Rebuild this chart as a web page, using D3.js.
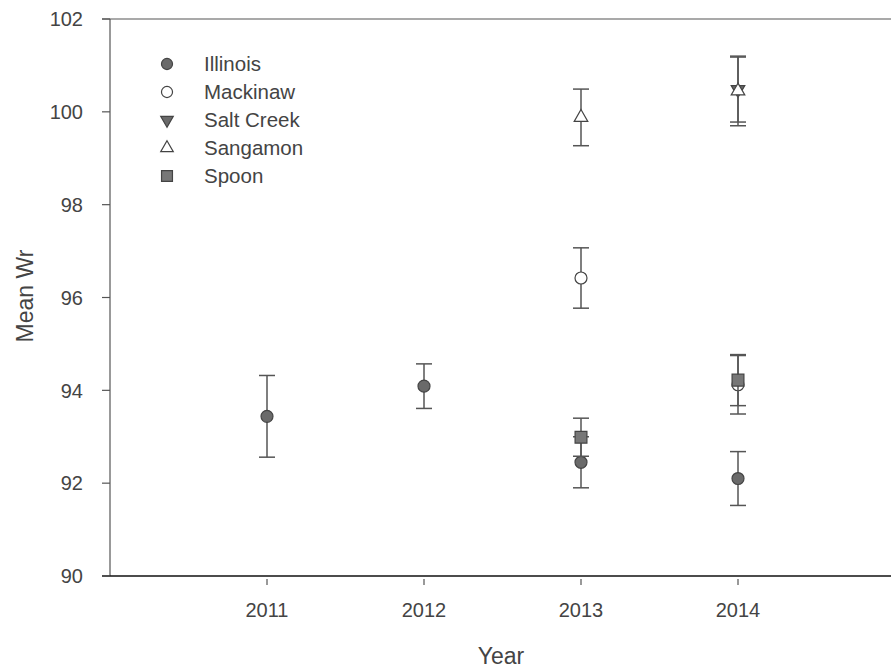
<!DOCTYPE html>
<html>
<head>
<meta charset="utf-8">
<script src="https://cdn.jsdelivr.net/npm/d3@7"></script>
<style>
  body { margin: 0; background: #fff; }
  text { font-family: "Liberation Sans", Arial, sans-serif; fill: #444; }
</style>
</head>
<body>
<svg id="chart" width="891" height="671"></svg>
<script>
// values (mean Wr and half error bar)
const series = ['Illinois', 'Mackinaw', 'Salt Creek', 'Sangamon', 'Spoon']
const illinoisYears = [2011, 2012, 2013, 2014]
const illinoisMean = [93.44, 94.09, 92.45, 92.10]
const illinoisErr = [0.88, 0.48, 0.55, 0.58]
const mackinawYears = [2013, 2014]
const mackinawMean = [96.42, 94.12]
const mackinawErr = [0.65, 0.63]
const saltCreekYears = [2014]
const saltCreekMean = [100.48]
const saltCreekErr = [0.70]
const sangamonYears = [2013, 2014]
const sangamonMean = [99.88, 100.45]
const sangamonErr = [0.61, 0.75]
const spoonYears = [2013, 2014]
const spoonMean = [92.99, 94.22]
const spoonErr = [0.41, 0.55]
const xTicks = [2011, 2012, 2013, 2014]
const yTicks = [90, 92, 94, 96, 98, 100, 102]

const svg = d3.select('#chart')
const x = d3.scaleLinear().domain([2010, 2015]).range([110, 895])
const y = d3.scaleLinear().domain([90, 102]).range([576, 19])

const symbolFor = {
  'Illinois': { type: d3.symbolCircle, size: 113, fill: '#6a6a6a', rotate: 0 },
  'Mackinaw': { type: d3.symbolCircle, size: 113, fill: '#fff', rotate: 0 },
  'Salt Creek': { type: d3.symbolTriangle, size: 80, fill: '#6a6a6a', rotate: 180 },
  'Sangamon': { type: d3.symbolTriangle, size: 80, fill: '#fff', rotate: 0 },
  'Spoon': { type: d3.symbolSquare, size: 140, fill: '#777', rotate: 0 }
}

const data = [
  ['Illinois', illinoisYears, illinoisMean, illinoisErr],
  ['Mackinaw', mackinawYears, mackinawMean, mackinawErr],
  ['Salt Creek', saltCreekYears, saltCreekMean, saltCreekErr],
  ['Sangamon', sangamonYears, sangamonMean, sangamonErr],
  ['Spoon', spoonYears, spoonMean, spoonErr]
].map(([name, yrs, m, e]) => ({ name, pts: yrs.map((yr, i) => ({ yr, m: m[i], e: e[i] })) }))

// frame: top line + axes
svg.append('line')
  .attr('x1', 102).attr('x2', 891).attr('y1', y(102)).attr('y2', y(102))
  .attr('stroke', '#555').attr('stroke-width', 1.2)
svg.append('line')
  .attr('x1', 110).attr('x2', 110).attr('y1', y(102)).attr('y2', y(90))
  .attr('stroke', '#555').attr('stroke-width', 1.2)
svg.append('line')
  .attr('x1', 102).attr('x2', 891).attr('y1', y(90)).attr('y2', y(90))
  .attr('stroke', '#111').attr('stroke-width', 1.5)

const yAxis = svg.append('g')
yAxis.selectAll('line').data(yTicks).enter().append('line')
  .attr('x1', 102).attr('x2', 110)
  .attr('y1', (d) => y(d)).attr('y2', (d) => y(d))
  .attr('stroke', '#555').attr('stroke-width', 1.2)
yAxis.selectAll('text').data(yTicks).enter().append('text')
  .attr('x', 83).attr('y', (d) => y(d))
  .attr('dy', '0.36em')
  .attr('text-anchor', 'end')
  .attr('font-size', 20)
  .text((d) => d)

const xAxis = svg.append('g')
xAxis.selectAll('line').data(xTicks).enter().append('line')
  .attr('x1', (d) => x(d)).attr('x2', (d) => x(d))
  .attr('y1', 579).attr('y2', 585)
  .attr('stroke', '#555').attr('stroke-width', 1.2)
xAxis.selectAll('text').data(xTicks).enter().append('text')
  .attr('x', (d) => x(d)).attr('y', 617)
  .attr('text-anchor', 'middle')
  .attr('font-size', 20)
  .text((d) => d)

svg.append('text')
  .attr('x', 501).attr('y', 664)
  .attr('text-anchor', 'middle')
  .attr('font-size', 23)
  .text('Year')
svg.append('text')
  .attr('transform', 'translate(33,296) rotate(-90)')
  .attr('text-anchor', 'middle')
  .attr('font-size', 23)
  .text('Mean Wr')

// error bars and markers, series by series
data.forEach((s) => {
  const g = svg.append('g')
  const sym = symbolFor[s.name]
  s.pts.forEach((p) => {
    const cx = x(p.yr)
    g.append('line')
      .attr('x1', cx).attr('x2', cx)
      .attr('y1', y(p.m - p.e)).attr('y2', y(p.m + p.e))
      .attr('stroke', '#555').attr('stroke-width', 1.5)
    ;[p.m - p.e, p.m + p.e].forEach((v) => {
      g.append('line')
        .attr('x1', cx - 8).attr('x2', cx + 8)
        .attr('y1', y(v)).attr('y2', y(v))
        .attr('stroke', '#555').attr('stroke-width', 1.5)
    })
    g.append('path')
      .attr('d', d3.symbol().type(sym.type).size(sym.size)())
      .attr('transform', `translate(${cx},${y(p.m)}) rotate(${sym.rotate})`)
      .attr('fill', sym.fill)
      .attr('stroke', '#444').attr('stroke-width', 1.2)
  })
})

// legend
const legend = svg.append('g')
series.forEach((name, i) => {
  const sym = symbolFor[name]
  const ly = 64 + i * 28
  legend.append('path')
    .attr('d', d3.symbol().type(sym.type).size(sym.size * 0.85)())
    .attr('transform', `translate(167,${ly}) rotate(${sym.rotate})`)
    .attr('fill', sym.fill)
    .attr('stroke', '#444').attr('stroke-width', 1.2)
  legend.append('text')
    .attr('x', 204).attr('y', ly)
    .attr('dy', '0.36em')
    .attr('font-size', 20.5)
    .text(name)
})
</script>
</body>
</html>
